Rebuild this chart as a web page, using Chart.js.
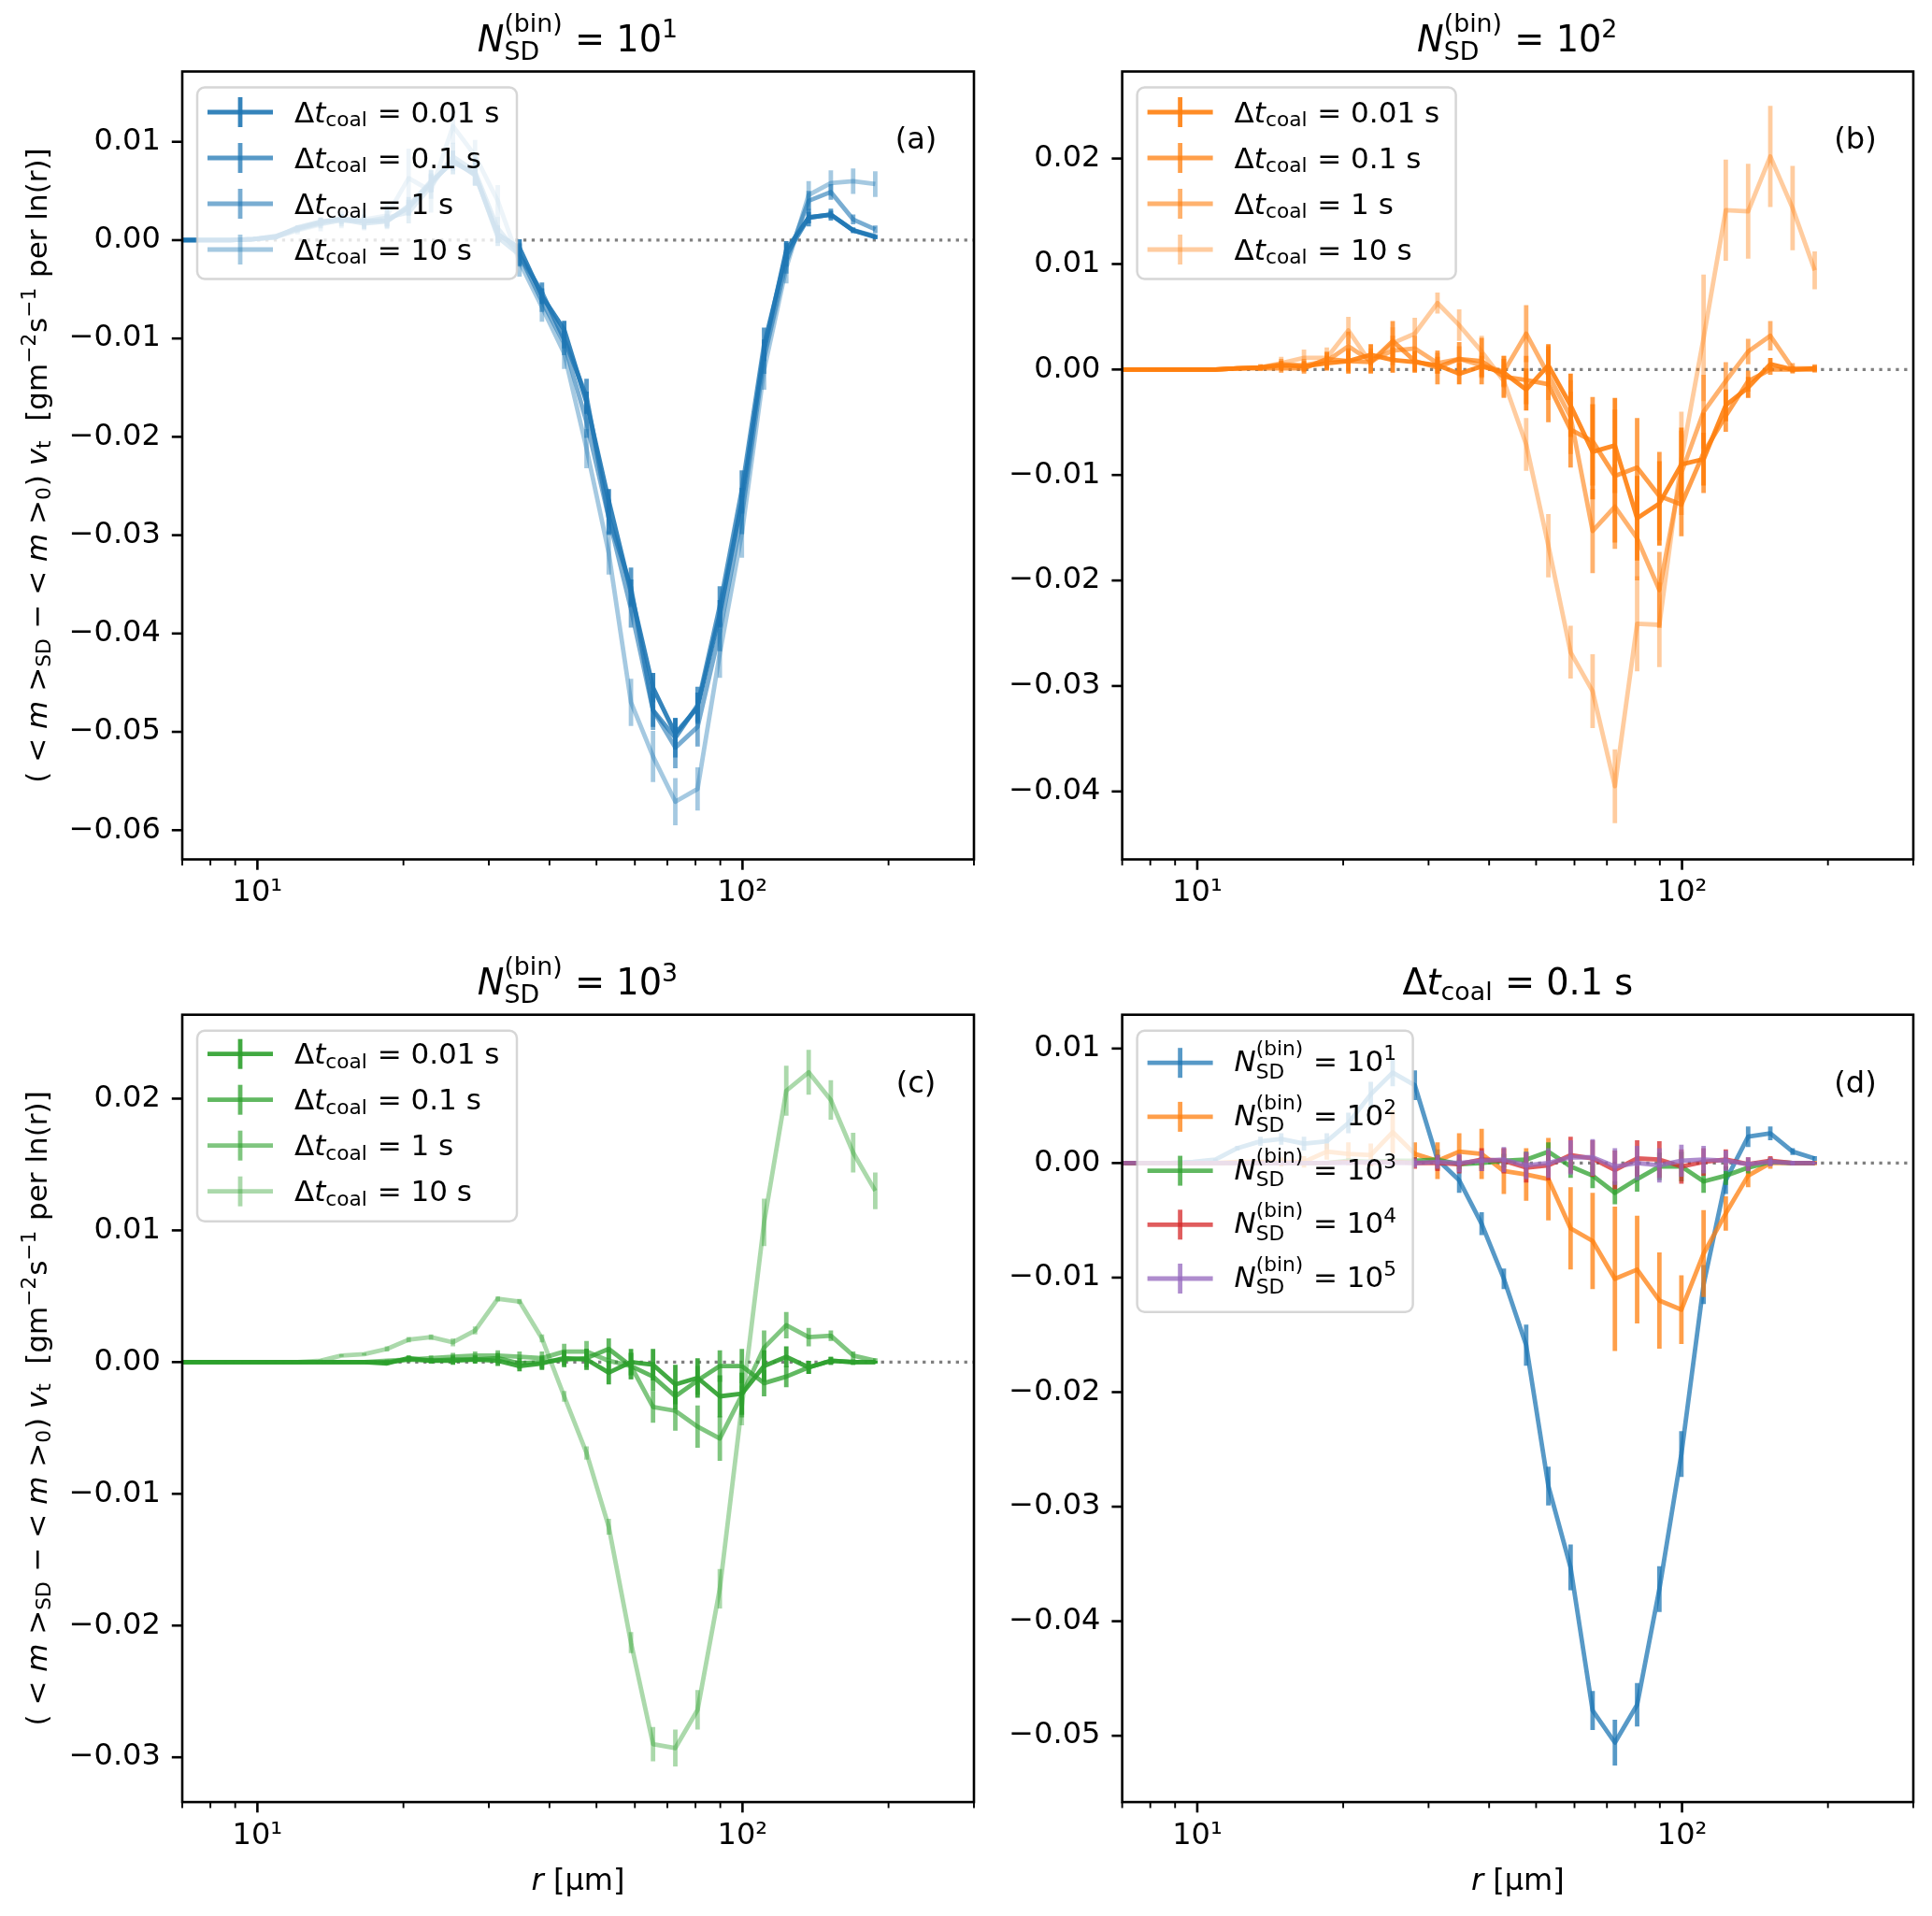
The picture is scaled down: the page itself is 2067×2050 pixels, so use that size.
<!DOCTYPE html>
<html><head><meta charset="utf-8">
<script src="https://cdn.jsdelivr.net/npm/chart.js@4.4.0/dist/chart.umd.min.js"></script>
<style>
html,body{margin:0;padding:0;background:#fff;}
body{width:2067px;height:2050px;position:relative;overflow:hidden;}
canvas{position:absolute;}
</style></head><body>
<canvas id="ca" width="1062" height="1000" style="left:0px;top:0px;width:1062px;height:1000px"></canvas>
<canvas id="cb" width="1022" height="1000" style="left:1045px;top:0px;width:1022px;height:1000px"></canvas>
<canvas id="cc" width="1062" height="1050" style="left:0px;top:1000px;width:1062px;height:1050px"></canvas>
<canvas id="cd" width="1022" height="1050" style="left:1045px;top:1000px;width:1022px;height:1050px"></canvas>
<script>
// ---------------- data ----------------
const radius = [6.4, 7.1, 7.9, 8.8, 9.8, 10.9, 12.1, 13.5, 14.9, 16.6, 18.5,
  20.5, 22.8, 25.3, 28.1, 31.3, 34.7, 38.6, 42.9, 47.7, 53.0, 58.9,
  65.4, 72.7, 80.8, 89.8, 99.7, 110.8, 123.1, 136.9, 152.1, 169.1, 187.8];

const dtLabels = ['0.01', '0.1', '1', '10'];
const nsdExponents = ['1', '2', '3', '4', '5'];
const xTickValues = [7, 8, 9, 10, 20, 30, 40, 50, 60, 70, 80, 90, 100, 200, 300];
const xMajorTicks = [10, 100];
const xMajorLabels = ['10¹', '10²'];
const xRange = [7, 300];
const yTicksA = [-0.06, -0.05, -0.04, -0.03, -0.02, -0.01, 0, 0.01];
const yTicksB = [-0.04, -0.03, -0.02, -0.01, 0, 0.01, 0.02];
const yTicksC = [-0.03, -0.02, -0.01, 0, 0.01, 0.02];
const yTicksD = [-0.05, -0.04, -0.03, -0.02, -0.01, 0, 0.01];

// panel (a): N_SD = 10^1
const a001 = [0, 0, 0, 0, 0.0001, 0.0004, 0.0012, 0.0018, 0.0022, 0.0019, 0.0020,
  0.0033, 0.0058, 0.0081, 0.0066, 0.0006, -0.0008, -0.0057, -0.0091, -0.0165, -0.0265, -0.0358,
  -0.0455, -0.0502, -0.0475, -0.0380, -0.0265, -0.0112, -0.0010, 0.0023, 0.0026, 0.0010, 0.0003];
const a01 = [0, 0, 0, 0, 0.0001, 0.0003, 0.0013, 0.0019, 0.0021, 0.0017, 0.0019,
  0.0035, 0.0060, 0.0079, 0.0068, 0.0003, -0.0015, -0.0053, -0.0101, -0.0159, -0.0282, -0.0353,
  -0.0478, -0.0506, -0.0473, -0.0372, -0.0254, -0.0106, -0.0015, 0.0023, 0.0026, 0.0010, 0.0004];
const a1 = [0, 0, 0, 0, 0.0001, 0.0003, 0.0011, 0.0017, 0.0020, 0.0019, 0.0023,
  0.0028, 0.0055, 0.0085, 0.0070, 0.0012, -0.0015, -0.0062, -0.0105, -0.0185, -0.0282, -0.0375,
  -0.0478, -0.0516, -0.0495, -0.0398, -0.0280, -0.0120, -0.0022, 0.0040, 0.0049, 0.0021, 0.0011];
const a10 = [0, 0, 0, 0, 0.0001, 0.0003, 0.0010, 0.0016, 0.0021, 0.0021, 0.0025,
  0.0063, 0.0050, 0.0116, 0.0086, 0.0040, -0.0022, -0.0068, -0.0115, -0.0212, -0.0318, -0.0470,
  -0.0525, -0.0571, -0.0558, -0.0420, -0.0298, -0.0132, -0.0028, 0.0046, 0.0058, 0.0060, 0.0057];
const a001Err = [0, 0, 0, 0, 0.0001, 0.0001, 0.0002, 0.0003, 0.0004, 0.0005, 0.0006,
  0.0008, 0.0009, 0.0010, 0.0010, 0.0009, 0.0009, 0.0008, 0.0009, 0.0011, 0.0012, 0.0013,
  0.0015, 0.0016, 0.0015, 0.0014, 0.0013, 0.0011, 0.0009, 0.0006, 0.0004, 0.0002, 0.0002];
const a01Err = [0, 0, 0, 0, 0.0001, 0.0001, 0.0002, 0.0004, 0.0005, 0.0006, 0.0007,
  0.0009, 0.0011, 0.0012, 0.0013, 0.0009, 0.0011, 0.0010, 0.0009, 0.0018, 0.0017, 0.0020,
  0.0017, 0.0020, 0.0019, 0.0020, 0.0020, 0.0017, 0.0012, 0.0009, 0.0006, 0.0003, 0.0002];
const a1Err = [0, 0, 0, 0, 0.0001, 0.0002, 0.0003, 0.0005, 0.0006, 0.0007, 0.0009,
  0.0011, 0.0013, 0.0014, 0.0014, 0.0012, 0.0012, 0.0011, 0.0012, 0.0016, 0.0018, 0.0019,
  0.0020, 0.0021, 0.0020, 0.0020, 0.0019, 0.0016, 0.0012, 0.0010, 0.0008, 0.0005, 0.0004];
const a10Err = [0, 0, 0, 0, 0.0001, 0.0002, 0.0004, 0.0007, 0.0009, 0.0011, 0.0014,
  0.0030, 0.0022, 0.0018, 0.0016, 0.0016, 0.0015, 0.0015, 0.0016, 0.0020, 0.0022, 0.0024,
  0.0026, 0.0024, 0.0022, 0.0025, 0.0025, 0.0020, 0.0016, 0.0014, 0.0013, 0.0013, 0.0013];

// panel (b): N_SD = 10^2
const b001 = [0, 0, 0, 0, 0, 0, 0.0001, 0.0002, 0.0004, 0.0003, 0.0006,
  0.0008, 0.0014, 0.0009, 0.0007, 0.0004, -0.0004, 0.0003, -0.0003, -0.0019, 0.0004, -0.0034,
  -0.0078, -0.0072, -0.0141, -0.0127, -0.0090, -0.0085, -0.0034, -0.0017, 0.0005, 0.0000, 0.0001];
const b01 = [0, 0, 0, 0, 0, 0, 0.0001, 0.0001, 0.0001, 0.0001, 0.0010,
  0.0008, 0.0007, 0.0027, 0.0008, 0.0002, 0.0010, 0.0008, -0.0007, -0.0010, -0.0014, -0.0057,
  -0.0068, -0.0101, -0.0093, -0.0120, -0.0128, -0.0079, -0.0044, -0.0011, 0.0000, 0.0000, 0.0000];
const b1 = [0, 0, 0, 0, 0, 0, 0.0001, 0.0002, 0.0005, 0.0004, 0.0008,
  0.0022, 0.0008, 0.0018, 0.0020, 0.0006, 0.0010, 0.0004, -0.0002, 0.0034, -0.0005, -0.0045,
  -0.0153, -0.0130, -0.0160, -0.0209, -0.0098, -0.0040, -0.0011, 0.0017, 0.0032, 0.0001, 0.0001];
const b10 = [0, 0, 0, 0, 0, 0, 0.0001, 0.0002, 0.0006, 0.0011, 0.0011,
  0.0037, 0.0006, 0.0025, 0.0034, 0.0063, 0.0042, 0.0017, -0.0011, -0.0071, -0.0167, -0.0268,
  -0.0305, -0.0395, -0.0241, -0.0242, -0.0085, 0.0030, 0.0151, 0.0150, 0.0202, 0.0153, 0.0094];
const b001Err = [0, 0, 0, 0, 0, 0, 0.0001, 0.0002, 0.0004, 0.0005, 0.0007,
  0.0012, 0.0010, 0.0012, 0.0010, 0.0008, 0.0010, 0.0010, 0.0013, 0.0020, 0.0020, 0.0030,
  0.0045, 0.0045, 0.0040, 0.0040, 0.0035, 0.0025, 0.0015, 0.0010, 0.0006, 0.0003, 0.0003];
const b01Err = [0, 0, 0, 0, 0, 0, 0.0001, 0.0002, 0.0004, 0.0005, 0.0007,
  0.0010, 0.0010, 0.0019, 0.0010, 0.0016, 0.0016, 0.0022, 0.0020, 0.0023, 0.0036, 0.0036,
  0.0042, 0.0063, 0.0047, 0.0042, 0.0030, 0.0038, 0.0015, 0.0010, 0.0005, 0.0002, 0.0002];
const b1Err = [0, 0, 0, 0, 0, 0, 0.0001, 0.0003, 0.0005, 0.0006, 0.0008,
  0.0014, 0.0012, 0.0014, 0.0012, 0.0010, 0.0012, 0.0012, 0.0015, 0.0027, 0.0024, 0.0035,
  0.0040, 0.0040, 0.0040, 0.0036, 0.0040, 0.0035, 0.0018, 0.0012, 0.0014, 0.0005, 0.0004];
const b10Err = [0, 0, 0, 0, 0, 0, 0.0001, 0.0003, 0.0006, 0.0008, 0.0010,
  0.0013, 0.0010, 0.0015, 0.0015, 0.0010, 0.0015, 0.0015, 0.0015, 0.0025, 0.0030, 0.0025,
  0.0035, 0.0035, 0.0045, 0.0040, 0.0045, 0.0060, 0.0048, 0.0045, 0.0048, 0.0040, 0.0018];

// panel (c): N_SD = 10^3
const c001 = [0, 0, 0, 0, 0, 0, 0, 0, 0, 0, -0.0001,
  0.0003, 0.0001, 0.0001, 0.0002, 0.0001, -0.0003, -0.0001, 0.0003, 0.0002, -0.0008, 0.0000,
  -0.0002, -0.0017, -0.0012, -0.0026, -0.0024, -0.0003, 0.0004, -0.0004, 0.0001, 0.0000, 0.0000];
const c01 = [0, 0, 0, 0, 0, 0, 0, 0, 0, 0, 0.0000,
  0.0002, 0.0001, 0.0002, 0.0002, 0.0003, -0.0001, 0.0000, 0.0002, 0.0003, 0.0010, -0.0003,
  -0.0011, -0.0026, -0.0014, -0.0003, -0.0003, -0.0016, -0.0011, -0.0004, 0.0001, 0.0000, 0.0000];
const c1 = [0, 0, 0, 0, 0, 0, 0, 0, 0, 0, 0.0001,
  0.0002, 0.0003, 0.0004, 0.0005, 0.0005, 0.0004, 0.0003, 0.0008, 0.0008, 0.0001, -0.0003,
  -0.0034, -0.0037, -0.0049, -0.0058, -0.0025, 0.0011, 0.0028, 0.0019, 0.0020, 0.0005, 0.0001];
const c10 = [0, 0, 0, 0, 0, 0, 0, 0.0001, 0.0005, 0.0006, 0.0010,
  0.0017, 0.0019, 0.0015, 0.0024, 0.0048, 0.0046, 0.0018, -0.0026, -0.0069, -0.0125, -0.0213,
  -0.0290, -0.0293, -0.0264, -0.0172, -0.0033, 0.0106, 0.0206, 0.0220, 0.0199, 0.0159, 0.0130];
const c001Err = [0, 0, 0, 0, 0, 0, 0, 0, 0, 0, 0.0001,
  0.0002, 0.0002, 0.0003, 0.0003, 0.0004, 0.0004, 0.0005, 0.0006, 0.0008, 0.0009, 0.0010,
  0.0012, 0.0015, 0.0015, 0.0016, 0.0016, 0.0012, 0.0008, 0.0005, 0.0003, 0.0002, 0.0001];
const c01Err = [0, 0, 0, 0, 0, 0, 0, 0, 0, 0, 0.0001,
  0.0002, 0.0002, 0.0003, 0.0003, 0.0004, 0.0004, 0.0005, 0.0006, 0.0007, 0.0008, 0.0010,
  0.0011, 0.0010, 0.0011, 0.0012, 0.0013, 0.0010, 0.0008, 0.0005, 0.0003, 0.0002, 0.0001];
const c1Err = [0, 0, 0, 0, 0, 0, 0, 0, 0, 0, 0.0001,
  0.0002, 0.0002, 0.0003, 0.0003, 0.0004, 0.0004, 0.0005, 0.0006, 0.0008, 0.0009, 0.0010,
  0.0012, 0.0015, 0.0016, 0.0017, 0.0017, 0.0013, 0.0010, 0.0007, 0.0004, 0.0003, 0.0002];
const c10Err = [0, 0, 0, 0, 0, 0, 0, 0.0001, 0.0001, 0.0001, 0.0002,
  0.0002, 0.0002, 0.0003, 0.0003, 0.0002, 0.0002, 0.0003, 0.0004, 0.0005, 0.0006, 0.0008,
  0.0013, 0.0014, 0.0015, 0.0015, 0.0015, 0.0018, 0.0019, 0.0017, 0.0015, 0.0015, 0.0014];

// panel (d): dt = 0.1 s (N=10^1..10^3 reuse a01, b01, c01)
const d4 = [0, 0, 0, 0, 0, 0, 0, 0, 0, 0, 0,
  0.0001, 0.0000, 0.0001, 0.0000, 0.0000, -0.0001, 0.0003, 0.0002, -0.0004, -0.0002, 0.0007,
  0.0004, -0.0006, 0.0004, 0.0003, -0.0003, 0.0001, 0.0003, -0.0001, 0.0002, 0.0000, 0.0000];
const d5 = [0, 0, 0, 0, 0, 0, 0, 0, 0, 0, 0,
  0.0000, 0.0001, 0.0000, 0.0000, 0.0001, 0.0000, 0.0002, 0.0003, -0.0002, 0.0000, 0.0005,
  0.0005, -0.0003, 0.0000, -0.0002, 0.0002, 0.0003, 0.0002, -0.0001, 0.0001, 0.0000, 0.0000];
const d4Err = [0, 0, 0, 0, 0, 0, 0, 0, 0, 0, 0,
  0.0001, 0.0002, 0.0003, 0.0005, 0.0007, 0.0008, 0.0010, 0.0011, 0.0013, 0.0013, 0.0016,
  0.0016, 0.0017, 0.0016, 0.0016, 0.0015, 0.0012, 0.0009, 0.0006, 0.0004, 0.0002, 0.0001];
const d5Err = [0, 0, 0, 0, 0, 0, 0, 0, 0, 0, 0,
  0.0001, 0.0002, 0.0003, 0.0004, 0.0006, 0.0008, 0.0009, 0.0011, 0.0012, 0.0013, 0.0015,
  0.0016, 0.0016, 0.0015, 0.0015, 0.0014, 0.0012, 0.0009, 0.0006, 0.0004, 0.0002, 0.0001];

// ---------------- style ----------------
const FAM = "'DejaVu Sans'";
const BLUE = '#1f77b4', ORANGE = '#ff7f0e', GREEN = '#2ca02c', RED = '#d62728', PURPLE = '#9467bd';
const dtAlphas = [0.9, 0.75, 0.6, 0.4];
const dAlpha = 0.75;
const LW = 4.8;
const FS = 32;
const TFS = 38.3;

function rgba(hex, a) {
  const n = parseInt(hex.slice(1), 16);
  return 'rgba(' + (n >> 16) + ',' + ((n >> 8) & 255) + ',' + (n & 255) + ',' + a + ')';
}
function fnt(sz, it) { return (it ? 'oblique ' : '') + sz + 'px ' + FAM; }

// mini mathtext renderer
function layoutMath(ctx, segs, fs) {
  let w = 0; const out = [];
  for (const s of segs) {
    if (s.t !== undefined) {
      ctx.font = fnt(fs, s.i);
      out.push({ x: w, dy: 0, font: ctx.font, t: s.t });
      w += ctx.measureText(s.t).width;
    } else {
      const ss = fs * 0.7; let ww = 0;
      const both = s.sub !== undefined && s.sup !== undefined;
      if (s.sup !== undefined) {
        ctx.font = fnt(ss, false);
        out.push({ x: w, dy: both ? -0.56 * fs : -0.38 * fs, font: ctx.font, t: s.sup });
        ww = Math.max(ww, ctx.measureText(s.sup).width);
      }
      if (s.sub !== undefined) {
        ctx.font = fnt(ss, false);
        out.push({ x: w, dy: both ? 0.24 * fs : 0.14 * fs, font: ctx.font, t: s.sub });
        ww = Math.max(ww, ctx.measureText(s.sub).width);
      }
      w += ww + fs * 0.03;
    }
  }
  return { w, out };
}
function drawMath(ctx, segs, fs, x, y, align, color) {
  const L = layoutMath(ctx, segs, fs);
  const x0 = align === 'center' ? x - L.w / 2 : (align === 'right' ? x - L.w : x);
  ctx.save();
  ctx.fillStyle = color || '#000'; ctx.textBaseline = 'alphabetic'; ctx.textAlign = 'left';
  for (const o of L.out) { ctx.font = o.font; ctx.fillText(o.t, x0 + o.x, y + o.dy); }
  ctx.restore();
  return L.w;
}
function dtSegs(v) { return [{ t: 'Δ' }, { t: 't', i: 1 }, { sub: 'coal' }, { t: ' = ' + v + ' s' }]; }
function nSegs(p) { return [{ t: 'N', i: 1 }, { sub: 'SD', sup: '(bin)' }, { t: ' = 10' }, { sup: p }]; }
const yLabelSegs = [{ t: '( < ' }, { t: 'm', i: 1 }, { t: ' >' }, { sub: 'SD' }, { t: ' − < ' }, { t: 'm', i: 1 },
  { t: ' >' }, { sub: '0' }, { t: ') ' }, { t: 'v', i: 1 }, { sub: 't' }, { t: '  [gm' }, { sup: '−2' }, { t: 's' },
  { sup: '−1' }, { t: ' per ln(r)]' }];
const xLabelSegs = [{ t: 'r', i: 1 }, { t: ' [µm]' }];

function yFmt(v) {
  const s = Math.abs(v).toFixed(2);
  return (v < -1e-9 ? '−' : '') + s;
}
function xFmt(v) {
  const k = xMajorTicks.indexOf(v);
  return k >= 0 ? xMajorLabels[k] : '';
}

// ---------------- panels ----------------
const panels = [
  { id: 'ca', padTop: 76.5, padRight: 20, yW: 195, xH: 80.5, ymin: -0.06297, ymax: 0.01715, yTicks: yTicksA,
    title: nSegs('1'), titleOff: 21.5, tag: '(a)', ylabel: true, xlabel: false,
    legend: { dx: 16, dy: 17, w: 342, h: 205, first: 26.5, step: 49, base: 10.5 },
    series: [[a001, a001Err], [a01, a01Err], [a1, a1Err], [a10, a10Err]].map((s, i) =>
      ({ vals: s[0], errs: s[1], color: rgba(BLUE, dtAlphas[i]), label: dtSegs(dtLabels[i]) })) },
  { id: 'cb', padTop: 76.5, padRight: 20, yW: 155.6, xH: 80.5, ymin: -0.04644, ymax: 0.02825, yTicks: yTicksB,
    title: nSegs('2'), titleOff: 21.5, tag: '(b)', ylabel: false, xlabel: false,
    legend: { dx: 16, dy: 17, w: 341, h: 205, first: 26.5, step: 49, base: 10.5 },
    series: [[b001, b001Err], [b01, b01Err], [b1, b1Err], [b10, b10Err]].map((s, i) =>
      ({ vals: s[0], errs: s[1], color: rgba(ORANGE, dtAlphas[i]), label: dtSegs(dtLabels[i]) })) },
  { id: 'cc', padTop: 85.7, padRight: 20, yW: 195, xH: 121.9, ymin: -0.0334, ymax: 0.02637, yTicks: yTicksC,
    title: nSegs('3'), titleOff: 21.5, tag: '(c)', ylabel: true, xlabel: true,
    legend: { dx: 16, dy: 17, w: 342, h: 204, first: 25, step: 49, base: 10.5 },
    series: [[c001, c001Err], [c01, c01Err], [c1, c1Err], [c10, c10Err]].map((s, i) =>
      ({ vals: s[0], errs: s[1], color: rgba(GREEN, dtAlphas[i]), label: dtSegs(dtLabels[i]) })) },
  { id: 'cd', padTop: 85.7, padRight: 20, yW: 155.6, xH: 121.9, ymin: -0.05579, ymax: 0.01295, yTicks: yTicksD,
    title: dtSegs('0.1'), titleOff: 21.5, tag: '(d)', ylabel: false, xlabel: true,
    legend: { dx: 16, dy: 17, w: 295, h: 301, first: 34.5, step: 57.7, base: 9 },
    series: [[a01, a01Err, BLUE], [b01, b01Err, ORANGE], [c01, c01Err, GREEN], [d4, d4Err, RED], [d5, d5Err, PURPLE]].map((s, i) =>
      ({ vals: s[0], errs: s[1], color: rgba(s[2], dAlpha), label: nSegs(nsdExponents[i]) })) }
];

const errPlugin = {
  id: 'errbars',
  afterDatasetDraw(chart, args) {
    const ds = chart.data.datasets[args.index];
    if (!ds.errs) return;
    const ctx = chart.ctx, ca = chart.chartArea, xs = chart.scales.x, ys = chart.scales.y;
    ctx.save();
    ctx.beginPath(); ctx.rect(ca.left, ca.top, ca.right - ca.left, ca.bottom - ca.top); ctx.clip();
    ctx.strokeStyle = ds.borderColor; ctx.lineWidth = LW; ctx.lineCap = 'butt';
    ctx.beginPath();
    ds.data.forEach((p, i) => {
      const e = ds.errs[i]; if (!e) return;
      const px = xs.getPixelForValue(p.x);
      ctx.moveTo(px, ys.getPixelForValue(p.y - e)); ctx.lineTo(px, ys.getPixelForValue(p.y + e));
    });
    ctx.stroke();
    ctx.restore();
  }
};

function decoPlugin(P) {
  return {
    id: 'deco',
    afterDatasetsDraw(chart) {
      const ctx = chart.ctx, ca = chart.chartArea, L = P.legend;
      const bx = ca.left + L.dx, by = ca.top + L.dy;
      ctx.save();
      ctx.beginPath();
      if (ctx.roundRect) ctx.roundRect(bx, by, L.w, L.h, 8); else ctx.rect(bx, by, L.w, L.h);
      ctx.fillStyle = 'rgba(255,255,255,0.8)'; ctx.fill();
      ctx.strokeStyle = 'rgba(204,204,204,0.8)'; ctx.lineWidth = 2.5; ctx.stroke();
      P.series.forEach((s, i) => {
        const cy = by + L.first + i * L.step;
        ctx.strokeStyle = s.color; ctx.lineWidth = LW; ctx.lineCap = 'butt';
        ctx.beginPath(); ctx.moveTo(bx + 11, cy); ctx.lineTo(bx + 81, cy); ctx.stroke();
        ctx.beginPath(); ctx.moveTo(bx + 46, cy - 16); ctx.lineTo(bx + 46, cy + 16); ctx.stroke();
        drawMath(ctx, s.label, 31, bx + 104, cy + L.base, 'left', '#000');
      });
      ctx.font = fnt(FS, false); ctx.fillStyle = '#000'; ctx.textAlign = 'center'; ctx.textBaseline = 'middle';
      ctx.fillText(P.tag, ca.right - 62, ca.top + 74.5);
      ctx.restore();
    },
    afterDraw(chart) {
      const ctx = chart.ctx, ca = chart.chartArea, xs = chart.scales.x, ys = chart.scales.y;
      ctx.save();
      ctx.strokeStyle = '#000'; ctx.lineWidth = 2.6;
      ctx.strokeRect(ca.left, ca.top, ca.right - ca.left, ca.bottom - ca.top);
      xs.ticks.forEach(t => {
        const major = xMajorTicks.indexOf(t.value) >= 0;
        const px = xs.getPixelForValue(t.value);
        ctx.lineWidth = major ? 2.6 : 1.9;
        ctx.beginPath(); ctx.moveTo(px, ca.bottom); ctx.lineTo(px, ca.bottom + (major ? 11.2 : 6.4)); ctx.stroke();
      });
      ys.ticks.forEach(t => {
        const py = ys.getPixelForValue(t.value);
        ctx.lineWidth = 2.6;
        ctx.beginPath(); ctx.moveTo(ca.left - 11.2, py); ctx.lineTo(ca.left, py); ctx.stroke();
      });
      drawMath(ctx, P.title, TFS, (ca.left + ca.right) / 2, ca.top - P.titleOff, 'center', '#000');
      if (P.ylabel) {
        ctx.save();
        ctx.translate(50, (ca.top + ca.bottom) / 2);
        ctx.rotate(-Math.PI / 2);
        drawMath(ctx, yLabelSegs, 31, 0, 0, 'center', '#000');
        ctx.restore();
      }
      if (P.xlabel) {
        drawMath(ctx, xLabelSegs, FS, (ca.left + ca.right) / 2, ca.bottom + 94, 'center', '#000');
      }
      ctx.restore();
    }
  };
}

const tickFont = { family: FAM, size: FS };
function gridOpts() {
  return { display: true, drawOnChartArea: false, drawTicks: true, tickLength: 11.2,
    color: 'rgba(0,0,0,0)', tickColor: 'rgba(0,0,0,0)' };
}

panels.forEach(P => {
  const datasets = [{
    data: [{ x: xRange[0], y: 0 }, { x: xRange[1], y: 0 }],
    borderColor: 'rgb(128,128,128)', borderWidth: 3.3, borderDash: [3.3, 5.6],
    pointRadius: 0, order: 100, clip: 0, fill: false
  }];
  P.series.forEach((s, i) => {
    datasets.push({
      data: radius.map((r, k) => ({ x: r, y: s.vals[k] })),
      errs: s.errs, borderColor: s.color, backgroundColor: s.color, borderWidth: LW,
      pointRadius: 0, tension: 0, order: 50 - i, clip: 0, fill: false,
      borderJoinStyle: 'round', borderCapStyle: 'butt'
    });
  });
  new Chart(document.getElementById(P.id), {
    type: 'line',
    data: { datasets },
    options: {
      responsive: false, animation: false, devicePixelRatio: 1, events: [],
      layout: { padding: { top: P.padTop, right: P.padRight, bottom: 0, left: 0 } },
      plugins: { legend: { display: false }, tooltip: { enabled: false } },
      scales: {
        x: {
          type: 'logarithmic', min: xRange[0], max: xRange[1],
          afterFit: s => { s.height = P.xH; },
          afterBuildTicks: s => { s.ticks = xTickValues.map(v => ({ value: v })); },
          ticks: { autoSkip: false, maxRotation: 0, minRotation: 0, padding: 6, color: '#000', font: tickFont,
            callback: v => xFmt(v) },
          grid: gridOpts(), border: { display: false }
        },
        y: {
          type: 'linear', min: P.ymin, max: P.ymax,
          afterFit: s => { s.width = P.yW; },
          afterBuildTicks: s => { s.ticks = P.yTicks.map(v => ({ value: v })); },
          ticks: { padding: 12, color: '#000', font: tickFont, callback: v => yFmt(v) },
          grid: gridOpts(), border: { display: false }
        }
      }
    },
    plugins: [errPlugin, decoPlugin(P)]
  });
});
</script>
</body></html>
